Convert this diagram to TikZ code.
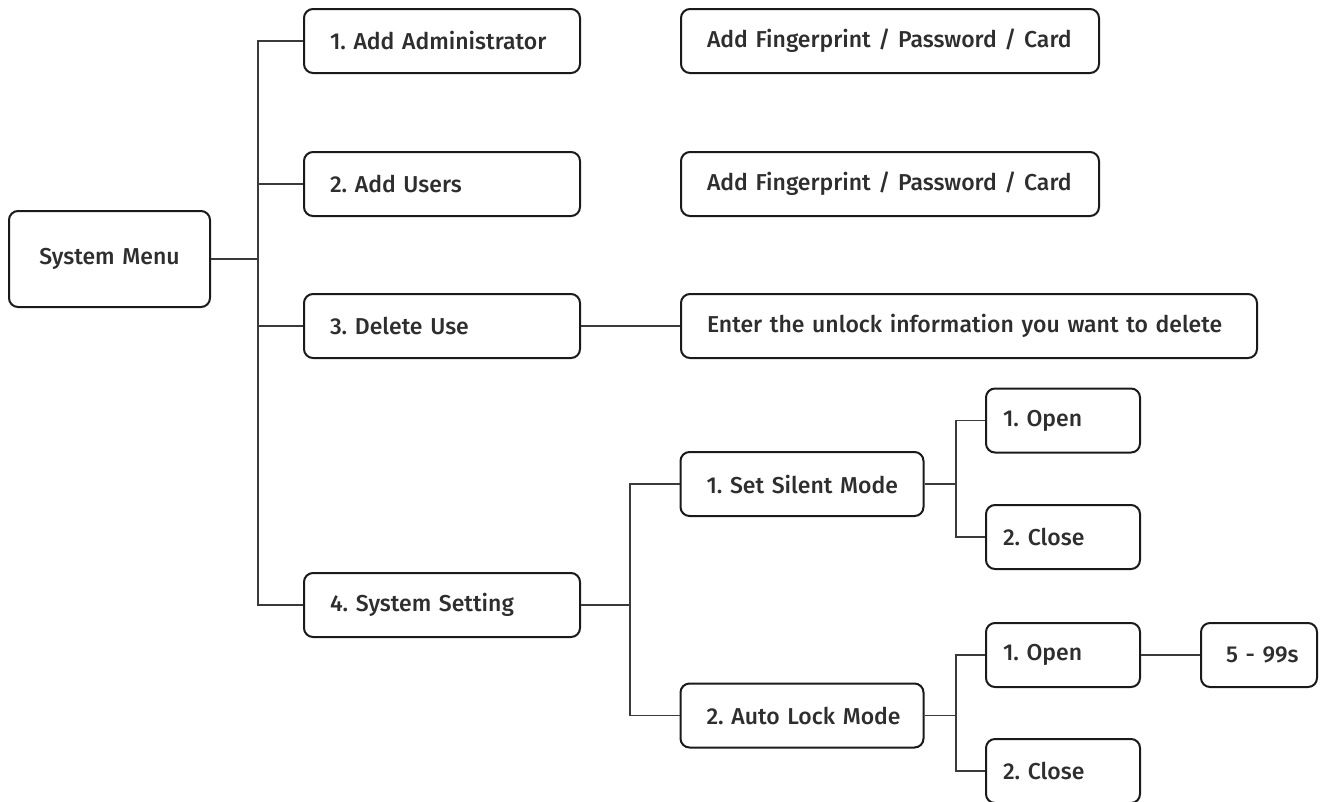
\documentclass[tikz,border=0pt]{standalone}
\usepackage{fontspec}
\setmainfont{Fira Sans Medium}
\frenchspacing
\begin{document}
\begin{tikzpicture}[x=1pt,y=-1pt,
  every node/.style={font=\fontsize{23}{26}\selectfont, text=txt},
  box/.style={draw=edge, line width=2, rounded corners=9, minimum height=64, inner xsep=#1, inner ysep=0, align=left, anchor=center},
  box/.default=26,
  conn/.style={draw=lin, line width=1.4}
]
\definecolor{txt}{HTML}{2E2E2E}
\definecolor{edge}{HTML}{1A1A1A}
\definecolor{lin}{HTML}{3A3A3A}
\useasboundingbox (0,0) rectangle (1322,801);
\fill[white] (0,0) rectangle (1322,801);
% nodes
\node[box, minimum height=96, text width=151, align=center, inner xsep=25] (sys) at (109.5,259) {System Menu};
\node[box, text width=224] (a1) at (442,41) {\mbox{1. Add Administrator}};
\node[box, text width=366] (f1) at (890,41) {\mbox{Add Fingerprint / Password / Card}};
\node[box, text width=224] (a2) at (442,184) {\mbox{2. Add Users}};
\node[box, text width=366] (f2) at (890,184) {\mbox{Add Fingerprint / Password / Card}};
\node[box, text width=224] (a3) at (442,326) {\mbox{3. Delete Use}};
\node[box, text width=524] (del) at (969,326) {\mbox{Enter the unlock information you want to delete}};
\node[box, text width=224] (a4) at (442,605) {\mbox{4. System Setting}};
\node[box, text width=191] (s1) at (802,484) {\mbox{1. Set Silent Mode}};
\node[box, text width=191] (s2) at (802,715.5) {\mbox{2. Auto Lock Mode}};
\node[box=17, text width=120] (o1) at (1063,420.5) {1. Open};
\node[box=17, text width=120] (c1) at (1063,537) {2. Close};
\node[box=17, text width=120] (o2) at (1063,655) {1. Open};
\node[box=17, text width=120] (c2) at (1063,771) {2. Close};
\node[box, text width=66, align=center, inner xsep=25] (t) at (1259,655) {\mbox{5 - 99s}};
% junction coordinates
\coordinate (j) at (258,0);
\coordinate (k) at (630,0);
\coordinate (m) at (956,0);
% connectors
\draw[conn] (sys.east) -- (sys.east -| j);
\draw[conn] (a1.west) -- (a1.west -| j) -- (a4.west -| j) -- (a4.west);
\draw[conn] (a2.west) -- (a2.west -| j);
\draw[conn] (a3.west) -- (a3.west -| j);
\draw[conn] (a3.east) -- (del.west);
\draw[conn] (a4.east) -- (a4.east -| k);
\draw[conn] (s1.west) -- (s1.west -| k) -- (s2.west -| k) -- (s2.west);
\draw[conn] (s1.east) -- (s1.east -| m);
\draw[conn] (o1.west) -- (o1.west -| m) -- (c1.west -| m) -- (c1.west);
\draw[conn] (s2.east) -- (s2.east -| m);
\draw[conn] (o2.west) -- (o2.west -| m) -- (c2.west -| m) -- (c2.west);
\draw[conn] (o2.east) -- (t.west);
\end{tikzpicture}
\end{document}
